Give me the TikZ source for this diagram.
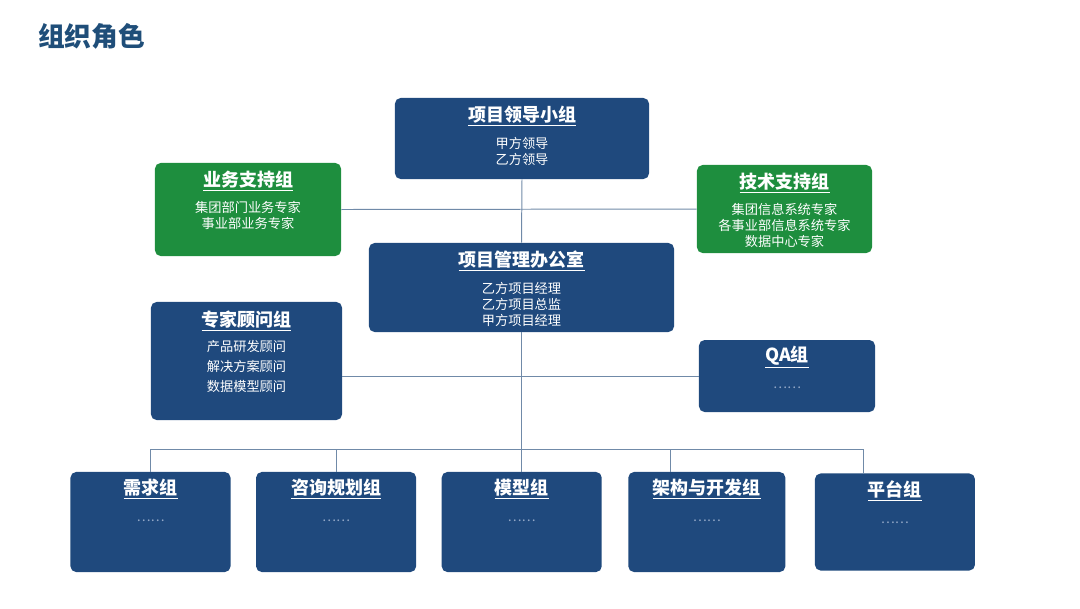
\documentclass[tikz,border=0pt]{standalone}
\usepackage{fontspec}
\setmainfont{Noto Sans CJK SC}
\usetikzlibrary{positioning}
\definecolor{boxblue}{RGB}{31,73,125}
\definecolor{boxgreen}{RGB}{30,142,62}
\definecolor{titleblue}{RGB}{31,78,121}
\definecolor{linkgray}{RGB}{112,138,168}
\definecolor{dotgray}{RGB}{150,170,200}
\newcommand{\grp}[1]{{\fontsize{12.8}{15}\selectfont\bfseries\underline{#1}}}
\newcommand{\etc}{{\color{dotgray}……}}

\begin{document}
\begin{tikzpicture}[
    x=0.025cm, y=-0.025cm,
    node distance=0.625cm,
    box/.style={fill=boxblue, rounded corners=4pt, inner sep=0pt, minimum width=4cm, minimum height=2.5cm},
    greenbox/.style={box, fill=boxgreen},
    txt/.style={text=white, align=center, font=\fontsize{9.4}{11.3}\selectfont, inner sep=0pt, anchor=north},
    link/.style={draw=linkgray, line width=0.7pt}
]
    \useasboundingbox (0,0) rectangle (1080,608);
    \node[anchor=west, inner sep=0pt, text=titleblue, font=\fontsize{19}{22}\selectfont\bfseries] (heading) at (38,36) {组织角色};

    % upper part
    \node[box, minimum width=6.35cm, minimum height=2.025cm] (lead) at (522,138.5) {};
    \node[greenbox, minimum width=4.65cm, minimum height=2.325cm] (biz) at (248,209.5) {};
    \node[greenbox, minimum width=4.375cm, minimum height=2.2cm] (tech) at (784.5,209) {};
    \node[box, minimum width=7.625cm, minimum height=2.225cm] (pmo) at (521.5,287.5) {};
    \node[box, minimum width=4.775cm, minimum height=2.95cm] (expert) at (246.5,361) {};
    \node[box, minimum width=4.4cm, minimum height=1.8cm] (qa) at (787,376) {};

    % working groups
    \node[box] (req) at (150.5,522) {};
    \node[box, right=of req] (cons) {};
    \node[box, right=of cons] (model) {};
    \node[box, minimum width=3.925cm, right=0.65cm of model] (arch) {};
    \node[box, minimum height=2.425cm, right=0.725cm of arch] (plat) {};

    \node[txt] (leadtxt) at ([yshift=-0.2cm]lead.north) {\grp{项目领导小组}\\[7.7pt]甲方领导\\乙方领导};
    \node[txt] (biztxt) at ([yshift=-0.2cm]biz.north) {\grp{业务支持组}\\[7pt]集团部门业务专家\\事业部业务专家};
    \node[txt] (techtxt) at ([yshift=-0.2cm]tech.north) {\grp{技术支持组}\\[7pt]集团信息系统专家\\各事业部信息系统专家\\数据中心专家};
    \node[txt] (pmotxt) at ([yshift=-0.2cm]pmo.north) {\grp{项目管理办公室}\\[8pt]乙方项目经理\\乙方项目总监\\甲方项目经理};
    \node[txt] (experttxt) at ([yshift=-0.22cm]expert.north) {\grp{专家顾问组}\\[6.5pt]产品研发顾问\\[2.8pt]解决方案顾问\\[2.8pt]数据模型顾问};
    \node[txt] (qatxt) at ([yshift=-0.15cm]qa.north) {\grp{QA组}\\[8pt]\etc};
    \node[txt] (reqtxt) at ([yshift=-0.18cm]req.north) {\grp{需求组}\\[8pt]\etc};
    \node[txt] (constxt) at ([yshift=-0.18cm]cons.north) {\grp{咨询规划组}\\[8pt]\etc};
    \node[txt] (modeltxt) at ([yshift=-0.18cm]model.north) {\grp{模型组}\\[8pt]\etc};
    \node[txt] (archtxt) at ([yshift=-0.18cm]arch.north) {\grp{架构与开发组}\\[8pt]\etc};
    \node[txt] (plattxt) at ([yshift=-0.18cm]plat.north) {\grp{平台组}\\[8pt]\etc};

    % connectors
    \coordinate (bus) at (0,449);
    \coordinate (archdrop) at (670,449);
    \coordinate (platdrop) at (863,449);
    \draw[link] (lead.south) -- (pmo.north);
    \draw[link] (pmo.south) -- (pmo.south |- model.north);
    \draw[link] (biz.east) -- (tech.west);
    \draw[link] (qa.west) -- (qa.west -| expert.east);
    \draw[link] (req.north) -- (req.north |- bus) -- (platdrop) -- (platdrop |- plat.north);
    \draw[link] (cons.north) -- (cons.north |- bus);
    \draw[link] (archdrop) -- (archdrop |- arch.north);
\end{tikzpicture}
\end{document}
